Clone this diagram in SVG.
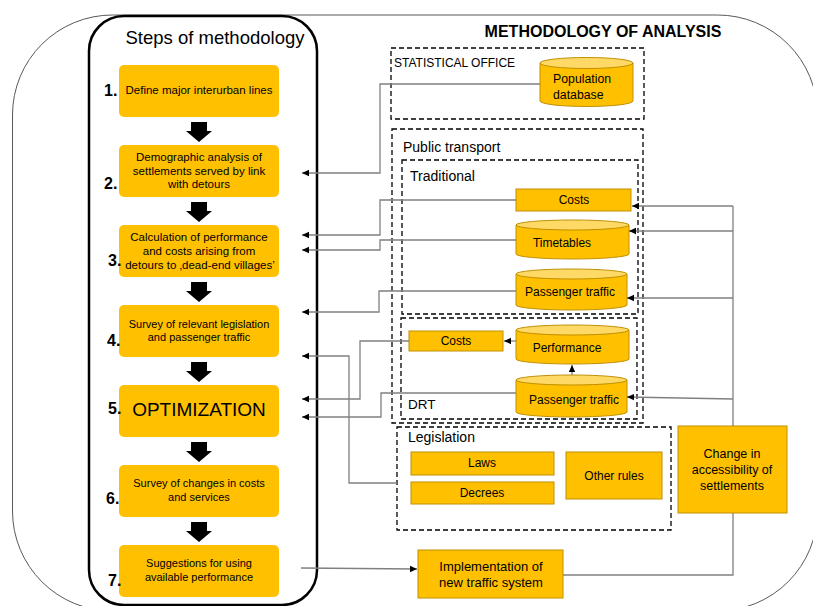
<svg xmlns="http://www.w3.org/2000/svg" width="813" height="606" viewBox="0 0 813 606">
<defs>
<style>
.t{font-family:"Liberation Sans",Arial,sans-serif;fill:#000}
.st{font-size:11.5px;text-anchor:middle}
.st2{font-size:11px;text-anchor:middle}
.num{font-size:16px;font-weight:bold}
.lb{font-size:14px}
.nd{font-size:12px;text-anchor:middle}
.step{fill:#FFC000}
.box{fill:#FFC000;stroke:#C09000;stroke-width:1}
.cyl{fill:#FFC000;stroke:#C09000;stroke-width:1}
.cyltop{fill:#FFD966;stroke:#C09000;stroke-width:1}
.dash{fill:none;stroke:#000;stroke-width:1.3;stroke-dasharray:5,3}
.con{fill:none;stroke:#808080;stroke-width:1.3}
.blk{fill:#000}
</style>
<marker id="ah" markerWidth="8" markerHeight="8" refX="7" refY="4" orient="auto" markerUnits="userSpaceOnUse">
<path d="M0,0.8 L7,4 L0,7.2 Z" fill="#000"/>
</marker>
</defs>

<rect x="12.5" y="15" width="805" height="596" rx="100" ry="100" fill="none" stroke="#595959" stroke-width="1"/>

<text class="t" x="603" y="37" font-size="16" font-weight="bold" text-anchor="middle">METHODOLOGY OF ANALYSIS</text>

<g id="steps">
<rect x="89" y="16" width="228" height="589" rx="35" ry="35" fill="#fff" stroke="#000" stroke-width="2.5"/>
<text class="t" x="215" y="44" font-size="18.5" text-anchor="middle">Steps of methodology</text>
</g>

<g id="step1">
<rect class="step" x="119" y="65" width="160" height="52" rx="5"/>
<text class="t st" x="199" y="94">Define major interurban lines</text>
<text class="t num" x="104" y="96">1.</text>
</g>
<g id="step2">
<rect class="step" x="119" y="145" width="160" height="52" rx="5"/>
<text class="t st" x="199" y="161">Demographic analysis of</text>
<text class="t st" x="199" y="175">settlements served by link</text>
<text class="t st" x="199" y="188">with detours</text>
<text class="t num" x="104" y="189">2.</text>
</g>
<g id="step3">
<rect class="step" x="119" y="225" width="160" height="52" rx="5"/>
<text class="t st" x="199" y="241">Calculation of performance</text>
<text class="t st" x="199" y="255">and costs arising from</text>
<text class="t st" x="200" y="269">detours to ‚dead-end villages’</text>
<text class="t num" x="108" y="266">3.</text>
</g>
<g id="step4">
<rect class="step" x="119" y="305" width="160" height="52" rx="5"/>
<text class="t st2" x="199" y="328">Survey of relevant legislation</text>
<text class="t st2" x="199" y="341">and passenger traffic</text>
<text class="t num" x="107" y="346">4.</text>
</g>
<g id="step5">
<rect class="step" x="119" y="385" width="160" height="52" rx="5"/>
<text class="t" x="199" y="416" font-size="19" text-anchor="middle">OPTIMIZATION</text>
<text class="t num" x="108" y="414">5.</text>
</g>
<g id="step6">
<rect class="step" x="119" y="465" width="160" height="52" rx="5"/>
<text class="t st2" x="199" y="487">Survey of changes in costs</text>
<text class="t st2" x="199" y="501">and services</text>
<text class="t num" x="106" y="504">6.</text>
</g>
<g id="step7">
<rect class="step" x="119" y="545" width="160" height="52" rx="5"/>
<text class="t st2" x="199" y="567">Suggestions for using</text>
<text class="t st2" x="199" y="581">available performance</text>
<text class="t num" x="108" y="586">7.</text>
</g>

<g id="block-arrows">
<path class="blk" d="M191,122 H207 V131 H212 L199,142 L186,131 H191 Z"/>
<path class="blk" d="M191,202 H207 V211 H212 L199,222 L186,211 H191 Z"/>
<path class="blk" d="M191,282 H207 V291 H212 L199,302 L186,291 H191 Z"/>
<path class="blk" d="M191,362 H207 V371 H212 L199,382 L186,371 H191 Z"/>
<path class="blk" d="M191,442 H207 V451 H212 L199,462 L186,451 H191 Z"/>
<path class="blk" d="M191,522 H207 V531 H212 L199,542 L186,531 H191 Z"/>
</g>

<g id="statistical-office">
<rect class="dash" x="391" y="48" width="253" height="71"/>
<text class="t" x="394" y="67" font-size="12">STATISTICAL OFFICE</text>
</g>
<g id="population-database">
<path class="cyl" d="M540,63 V101 A46.5,5.5 0 0 0 633,101 V63 Z"/>
<ellipse class="cyltop" cx="586.5" cy="63" rx="46.5" ry="5.5"/>
<text class="t" x="553" y="83" font-size="12.3">Population</text>
<text class="t" x="553" y="99" font-size="12.3">database</text>
</g>

<g id="public-transport">
<rect class="dash" x="392" y="129" width="251" height="294"/>
<text class="t lb" x="403" y="152">Public transport</text>
</g>
<g id="traditional">
<rect class="dash" x="402" y="160" width="236" height="154"/>
<text class="t lb" x="410" y="181">Traditional</text>
</g>
<g id="trad-costs">
<rect class="box" x="516" y="189" width="115" height="22"/>
<text class="t" x="574" y="204" font-size="12" text-anchor="middle">Costs</text>
</g>
<g id="timetables">
<path class="cyl" d="M516,225 V254 A56.5,5 0 0 0 629,254 V225 Z"/>
<ellipse class="cyltop" cx="572.5" cy="225" rx="56.5" ry="5"/>
<text class="t nd" x="562" y="247">Timetables</text>
</g>
<g id="trad-passenger-traffic">
<path class="cyl" d="M516,274 V305 A55.5,5 0 0 0 627,305 V274 Z"/>
<ellipse class="cyltop" cx="571.5" cy="274" rx="55.5" ry="5"/>
<text class="t nd" x="570" y="296">Passenger traffic</text>
</g>

<g id="drt">
<rect class="dash" x="401" y="318" width="236" height="101"/>
<text class="t" x="408" y="409" font-size="13.5">DRT</text>
</g>
<g id="drt-costs">
<rect class="box" x="409" y="331" width="94" height="20"/>
<text class="t" x="456" y="345" font-size="12" text-anchor="middle">Costs</text>
</g>
<g id="performance">
<path class="cyl" d="M516,330 V359 A56.5,5 0 0 0 629,359 V330 Z"/>
<ellipse class="cyltop" cx="572.5" cy="330" rx="56.5" ry="5"/>
<text class="t nd" x="567" y="352">Performance</text>
</g>
<g id="drt-passenger-traffic">
<path class="cyl" d="M516,380 V412 A55.5,5 0 0 0 627,412 V380 Z"/>
<ellipse class="cyltop" cx="571.5" cy="380" rx="55.5" ry="5"/>
<text class="t nd" x="574" y="404">Passenger traffic</text>
</g>

<g id="legislation">
<rect class="dash" x="397" y="427" width="274" height="103"/>
<text class="t lb" x="408" y="442">Legislation</text>
</g>
<g id="laws">
<rect class="box" x="411" y="452" width="143" height="23"/>
<text class="t nd" x="482" y="467">Laws</text>
</g>
<g id="decrees">
<rect class="box" x="411" y="482" width="143" height="22"/>
<text class="t nd" x="482" y="497">Decrees</text>
</g>
<g id="other-rules">
<rect class="box" x="566" y="452" width="96" height="47"/>
<text class="t nd" x="614" y="480">Other rules</text>
</g>

<g id="change-accessibility">
<rect class="box" x="678" y="426" width="109" height="87"/>
<text class="t" x="732" y="458" font-size="12.5" text-anchor="middle">Change in</text>
<text class="t" x="732" y="474" font-size="12.5" text-anchor="middle">accessibility of</text>
<text class="t" x="732" y="490" font-size="12.5" text-anchor="middle">settlements</text>
</g>
<g id="implementation">
<rect class="box" x="418" y="550" width="145" height="48"/>
<text class="t" x="491" y="571" font-size="13" text-anchor="middle">Implementation of</text>
<text class="t" x="491" y="587" font-size="13" text-anchor="middle">new traffic system</text>
</g>

<g id="connectors">
<path class="con" d="M540,84 H380 V173 H302" marker-end="url(#ah)"/>
<path class="con" d="M516,200 H380 V235 H302" marker-end="url(#ah)"/>
<path class="con" d="M516,240 H380 V250 H302" marker-end="url(#ah)"/>
<path class="con" d="M516,291 H379 V312 H302" marker-end="url(#ah)"/>
<path class="con" d="M409,341 H360 V399 H302" marker-end="url(#ah)"/>
<path class="con" d="M516,393 H381 V417 H302" marker-end="url(#ah)"/>
<path class="con" d="M397,483 H349 V356 H302" marker-end="url(#ah)"/>
<path class="con" d="M516,341 H504" marker-end="url(#ah)"/>
<path class="con" d="M572,375 V365" marker-end="url(#ah)"/>
<path class="con" d="M301,568 L417,569" marker-end="url(#ah)"/>
<path class="con" d="M563,575 H733 V513"/>
<path class="con" d="M733,426 V206"/>
<path class="con" d="M733,206 H632" marker-end="url(#ah)"/>
<path class="con" d="M733,231 H629" marker-end="url(#ah)"/>
<path class="con" d="M733,298 H627" marker-end="url(#ah)"/>
<path class="con" d="M733,399 L627,397" marker-end="url(#ah)"/>
</g>
</svg>
